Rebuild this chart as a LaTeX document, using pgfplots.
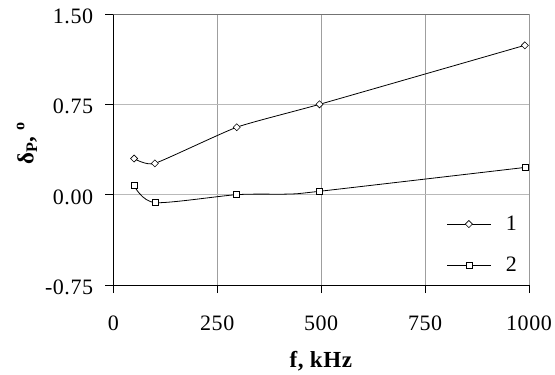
\documentclass[border=0pt]{standalone}
\usepackage{pgfplots}
\pgfplotsset{compat=1.18}
\usepackage{fontspec}
\setmainfont{Liberation Serif}[LetterSpace=2.5]
\begin{document}
\begin{tikzpicture}[font=\fontsize{22}{26}\selectfont]
\begin{axis}[
  scale only axis, width=415.7pt, height=271pt,
  xmin=0, xmax=1000, ymin=-0.75, ymax=1.5,
  xtick={0,250,500,750,1000}, ytick={-0.75,0,0.75,1.5},
  /pgf/number format/assume math mode=true,
  tick label style={font=\fontsize{22}{26}\selectfont, inner sep=0pt},
  label style={font=\fontsize{23}{27}\selectfont},
  yticklabel style={/pgf/number format/.cd, fixed, fixed zerofill, precision=2, /tikz/.cd, anchor=east, xshift=-12pt, yshift=-2.5pt},
  xticklabel style={/pgf/number format/.cd, fixed, precision=0, 1000 sep={}, /tikz/.cd, anchor=north, yshift=-22.7pt},
  axis lines=left,
  axis line style={-, black, line width=0.8pt},
  tick align=outside, major tick length=8pt,
  tick style={black, line width=0.8pt},
  grid=major,
  x grid style={gray!75, line width=0.8pt},
  y grid style={gray!55, line width=0.9pt},
  xlabel={\textbf{f, kHz}},
  ylabel={\textbf{δ\textsubscript{P}, \textsuperscript{o}}},
  xlabel style={at={(axis description cs:0.5,0)}, anchor=base, yshift=-82.3pt},
  ylabel style={at={(axis description cs:-0.1924,0.524)}, anchor=base},
  legend style={draw=none, fill=none, at={(axis cs:795,-0.159)}, anchor=north west,
    row sep=25.3pt, nodes={inner sep=0pt}, font=\fontsize{22}{26}\selectfont},
  legend cell align=left,
  legend image code/.code={\draw[#1, mark indices={2}] plot coordinates {(0pt,0pt) (21.5pt,0pt) (43pt,0pt)};},
  /tikz/every odd column/.append style={column sep=15pt},
]
\addplot[black, line width=0.8pt, smooth, tension=0.3, mark=square*,
  mark options={fill=white, solid, rotate=45, mark size=2.5pt, line width=0.6pt}]
  coordinates {(50,0.30) (100,0.26) (297,0.56) (496,0.75) (990,1.24)};
\addlegendentry{1}
\addplot[black, line width=0.8pt, smooth, tension=0.45, mark=square*,
  mark indices={1,2,3,5,6},
  mark options={fill=white, solid, mark size=3pt, line width=0.6pt}]
  coordinates {(50,0.075) (100,-0.066) (297,0.0) (420,0.005) (496,0.028) (990,0.226)};
\addlegendentry{2}
\draw[gray!90!black, line width=0.8pt] (rel axis cs:0,1) -- (rel axis cs:1,1) -- (rel axis cs:1,0);
\end{axis}
\path[use as bounding box] (-113.3pt,-89pt) rectangle (441.7pt,285pt);
\end{tikzpicture}
\end{document}
